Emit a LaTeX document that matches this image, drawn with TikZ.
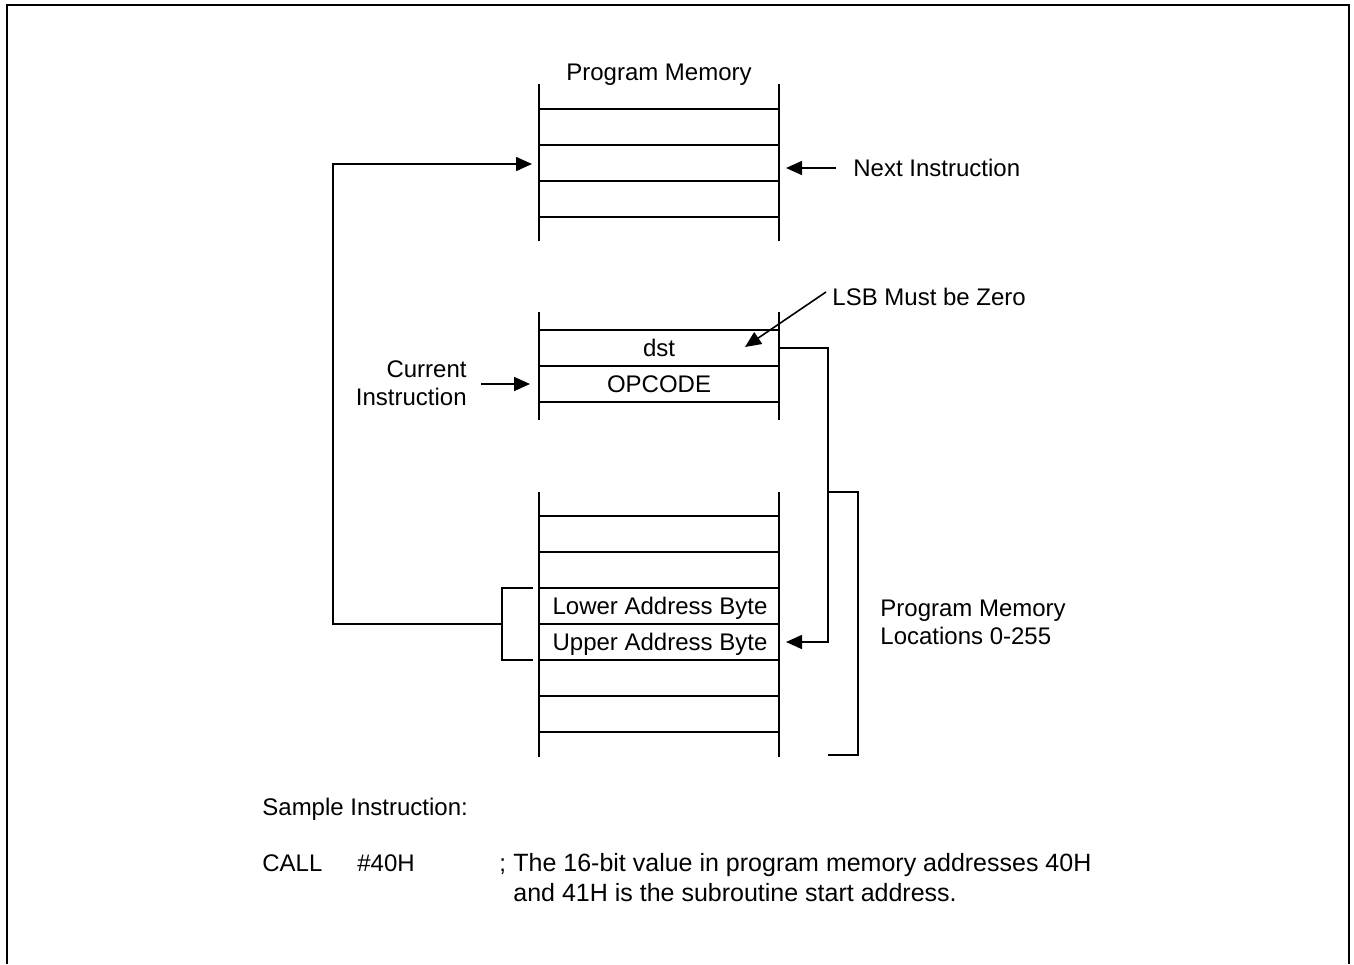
\documentclass[tikz,border=0pt]{standalone}
\usepackage{fontspec}
\setmainfont{Liberation Sans}
\usetikzlibrary{arrows.meta}
\begin{document}
\begin{tikzpicture}[x=0.5pt,y=-0.5pt,
  mem/.style={line width=1pt},
  conn/.style={line width=0.8pt},
  arr/.style={conn,-{Triangle[length=8pt,width=7pt]}},
  lbl/.style={font=\fontsize{12}{14}\selectfont, inner sep=0pt}]
\useasboundingbox (0,0) rectangle (1354,964);
\draw[line width=1.2pt] (7,964) -- (7,5) -- (1349,5) -- (1349,964);

% top block
\draw[mem] (539,84) -- (539,241) (779,84) -- (779,241);
\foreach \y in {109,145,181,217} \draw[mem] (539,\y) -- (779,\y);
\node[lbl, anchor=base] (pm) at (659,80) {Program Memory};
\coordinate (nextrow) at (532,164);
\coordinate (nexttip) at (786,168);
\node[lbl, anchor=base west] (next) at (853,176) {Next Instruction};
\draw[arr] ([xshift=-8.5pt]next.west |- nexttip) -- (nexttip);

% middle block
\draw[mem] (539,312) -- (539,420) (779,312) -- (779,420);
\foreach \y in {330,366,402} \draw[mem] (539,\y) -- (779,\y);
\node[lbl, anchor=base] (dst) at (659,356) {dst};
\node[lbl, anchor=base] (op) at (659,392) {OPCODE};
\node[lbl, align=right, anchor=base east] (cur) at (467,405) {Current\\Instruction};
\coordinate (curtip) at (530,384);
\draw[arr] (481,384) coordinate (curtail) -- (curtip);
\node[lbl, anchor=base west] (lsb) at (832,305) {LSB Must be Zero};
\coordinate (lsbtail) at (826,292);
\coordinate (lsbtip) at (745,347);
\draw[arr] (lsbtail) -- (lsbtip);

% bottom block
\draw[mem] (539,492) -- (539,757) (779,492) -- (779,757);
\foreach \y in {516,552,588,624,660,696,732} \draw[mem] (539,\y) -- (779,\y);
\node[lbl, anchor=base] (lower) at (660,614) {Lower Address Byte};
\node[lbl, anchor=base] (upper) at (660,650) {Upper Address Byte};

% dst -> upper connector
\coordinate (dstR) at (779,348);
\coordinate (uptip) at (786,642);
\draw[arr] (dstR) -- (828,348) -- (828,642) -- (uptip);

% left bracket and loop
\draw[conn] (533,588) -- (502,588) -- (502,660) -- (533,660);
\coordinate (brk) at (502,624);
\draw[arr] (brk) -- (333,624) -- (333,164) -- (nextrow);

% right bracket
\draw[conn] (828,492) -- (858,492) -- (858,755) -- (828,755);
\node[lbl, anchor=base west, align=left] (loc) at (880,644) {Program Memory\\Locations 0-255};

% sample instruction text
\node[lbl, anchor=base west] (sample) at (262,815) {Sample Instruction:};
\node[lbl, anchor=base west] (call) at (262,871) {CALL};
\node[lbl, anchor=base west] (imm) at (357,871) {\#40H};
\node[lbl, anchor=base west] (semi) at (499,871) {;};
\node[lbl, font=\fontsize{12.5}{15}\selectfont, anchor=base west, align=left] (cmt) at (513,901) {The 16-bit value in program memory addresses 40H\\and 41H is the subroutine start address.};
\end{tikzpicture}
\end{document}
